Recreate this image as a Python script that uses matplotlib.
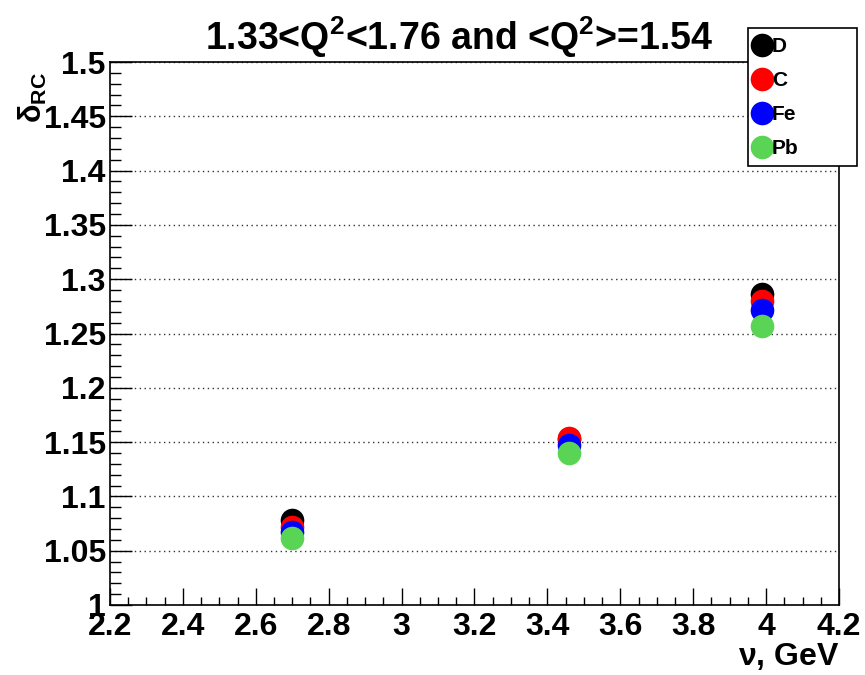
import matplotlib
matplotlib.use("Agg")
import matplotlib.pyplot as plt
from matplotlib.lines import Line2D
from matplotlib.patches import Rectangle
from matplotlib.ticker import MultipleLocator

plt.rcParams['font.family'] = ['Liberation Sans', 'DejaVu Sans']
plt.rcParams['font.weight'] = 'bold'
plt.rcParams['mathtext.fontset'] = 'custom'
plt.rcParams['mathtext.rm'] = 'Liberation Sans:bold'
plt.rcParams['mathtext.bf'] = 'Liberation Sans:bold'
plt.rcParams['mathtext.it'] = 'Liberation Sans:bold'

# Radiative correction factors vs. nu for each target
nu = [2.70, 3.46, 3.99]
targets = ['D', 'C', 'Fe', 'Pb']
delta_D = [1.078, 1.153, 1.286]
delta_C = [1.072, 1.154, 1.280]
delta_Fe = [1.067, 1.147, 1.272]
delta_Pb = [1.062, 1.140, 1.257]
colors = ['#000000', '#ff0000', '#0000ff', '#59d454']

fig = plt.figure(figsize=(8.65, 6.75), dpi=100)
ax = fig.add_axes([110/865, 1-605/675, (839-110)/865, (605-62)/675])

ms = 17
for vals, c in zip([delta_D, delta_C, delta_Fe, delta_Pb], colors):
    ax.plot(nu, vals, 'o', color=c, markersize=ms, markeredgewidth=0, zorder=3)

ax.set_xlim(2.2, 4.2)
ax.set_ylim(1.0, 1.5)
ax.xaxis.set_major_locator(MultipleLocator(0.2))
ax.xaxis.set_minor_locator(MultipleLocator(0.05))
ax.yaxis.set_major_locator(MultipleLocator(0.05))
ax.yaxis.set_minor_locator(MultipleLocator(0.01))

def fmt(v, pos):
    return ('%.2f' % v).rstrip('0').rstrip('.')
ax.xaxis.set_major_formatter(plt.FuncFormatter(fmt))
ax.yaxis.set_major_formatter(plt.FuncFormatter(fmt))

ax.tick_params(axis='both', which='both', direction='in', top=False, right=False,
               labelsize=23, width=1.0, color='black')
ax.tick_params(axis='x', which='major', length=12, pad=5)
ax.tick_params(axis='x', which='minor', length=6)
ax.tick_params(axis='y', which='major', length=16, pad=3)
ax.tick_params(axis='y', which='minor', length=8)
for lab in ax.get_xticklabels() + ax.get_yticklabels():
    lab.set_fontweight('bold')

ax.grid(True, axis='y', which='major', linestyle=(0, (1, 2.5)), color='#333333', linewidth=1.0)
ax.set_axisbelow(True)
for sp in ax.spines.values():
    sp.set_linewidth(1.2)

fig.text(459/865, 1-37/675, r'1.33<Q$^{2}$<1.76 and <Q$^{2}$>=1.54', ha='center', va='center',
         fontsize=27, fontweight='bold')
fig.text(839/865, 1-656/675, r'$\mathrm{\nu}$, GeV', ha='right', va='center',
         fontsize=23, fontweight='bold')
fig.text(33/865, 1-97/675, r'$\mathrm{\delta}_{\mathrm{RC}}$', ha='center', va='center',
         rotation=90, fontsize=22, fontweight='bold')

# Legend box
fig.add_artist(Rectangle((748/865, 1-166/675), (857-748)/865, (166-28)/675,
                         transform=fig.transFigure, facecolor='white',
                         edgecolor='black', linewidth=1.2, zorder=5))
handles = [Line2D([], [], linestyle='none', marker='o', color=c, markersize=ms,
                  markeredgewidth=0) for c in colors]
leg = fig.legend(handles, targets, loc='upper left',
                 bbox_to_anchor=(746/865, 1-31/675), frameon=False,
                 fontsize=15, handlelength=0.9, handletextpad=0.05,
                 labelspacing=0.72, borderpad=0.3, borderaxespad=0)
leg.set_zorder(6)
for t in leg.get_texts():
    t.set_fontweight('bold')

fig.savefig('out.png', dpi=100)
